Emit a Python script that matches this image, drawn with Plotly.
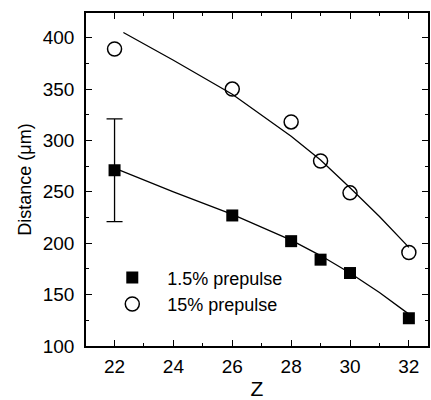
import plotly.graph_objects as go

# measured points
z = [22, 26, 28, 29, 30, 32]
dist_low = [271, 227, 202, 184, 171, 127]     # 1.5% prepulse
dist_high = [389, 350, 318, 280, 249, 191]    # 15% prepulse
err_z = [22]
err_y = [271]
err_val = [50]

# fit curves
fit_low_z = [22, 24, 26, 28, 29, 30, 31, 32]
fit_low_y = [273, 250, 228, 203, 188, 171, 152, 131]
fit_high_z = [22.3, 24, 26, 28, 29, 30, 31, 32]
fit_high_y = [405, 378, 345, 304, 281, 254, 226, 196]

font = "Liberation Sans, Arial, sans-serif"

fig = go.Figure()
fig.add_trace(go.Scatter(x=fit_low_z, y=fit_low_y, mode="lines",
                         line=dict(color="black", width=1.3), showlegend=False))
fig.add_trace(go.Scatter(x=fit_high_z, y=fit_high_y, mode="lines",
                         line=dict(color="black", width=1.3), showlegend=False))
fig.add_trace(go.Scatter(x=err_z, y=err_y, mode="markers", marker=dict(size=1, opacity=0),
                         error_y=dict(type="data", array=err_val, color="black",
                                      thickness=1.3, width=8),
                         showlegend=False))
fig.add_trace(go.Scatter(x=z, y=dist_low, mode="markers", name="1.5% prepulse",
                         marker=dict(symbol="square", size=12, color="black")))
fig.add_trace(go.Scatter(x=z, y=dist_high, mode="markers", name="15% prepulse",
                         marker=dict(symbol="circle-open", size=14, color="black",
                                     line=dict(width=1.5, color="black"))))

axis = dict(showline=True, linecolor="black", linewidth=1.5, mirror="ticks",
            ticks="inside", ticklen=6, tickwidth=1.3, tickcolor="black",
            showgrid=False, zeroline=False,
            tickfont=dict(family=font, size=19, color="black"))

fig.update_xaxes(axis, range=[21.03, 32.65], tickvals=[22, 24, 26, 28, 30, 32],
                 ticklabelstandoff=2,
                 minor=dict(dtick=1, ticks="inside", ticklen=3, tickcolor="black", tickwidth=1.2),
                 title=dict(text="Z", font=dict(family=font, size=21, color="black"), standoff=8))
fig.update_yaxes(axis, range=[100, 424], tickvals=[100, 150, 200, 250, 300, 350, 400],
                 ticklabelstandoff=6,
                 minor=dict(dtick=25, ticks="inside", ticklen=3, tickcolor="black", tickwidth=1.2),
                 title=dict(text="Distance (μm)", font=dict(family=font, size=18, color="black"),
                            standoff=6))

fig.update_layout(width=431, height=400, margin=dict(l=86, r=1, t=13, b=54),
                  plot_bgcolor="white", paper_bgcolor="white",
                  font=dict(family=font, color="black"),
                  legend=dict(x=0.033, y=0.26, xanchor="left", yanchor="top",
                              bgcolor="rgba(0,0,0,0)", tracegroupgap=0, itemwidth=60,
                              font=dict(family=font, size=18, color="black")))

fig.write_html("out.html", config={"displayModeBar": False},
               post_script="document.body.style.margin='0';")
